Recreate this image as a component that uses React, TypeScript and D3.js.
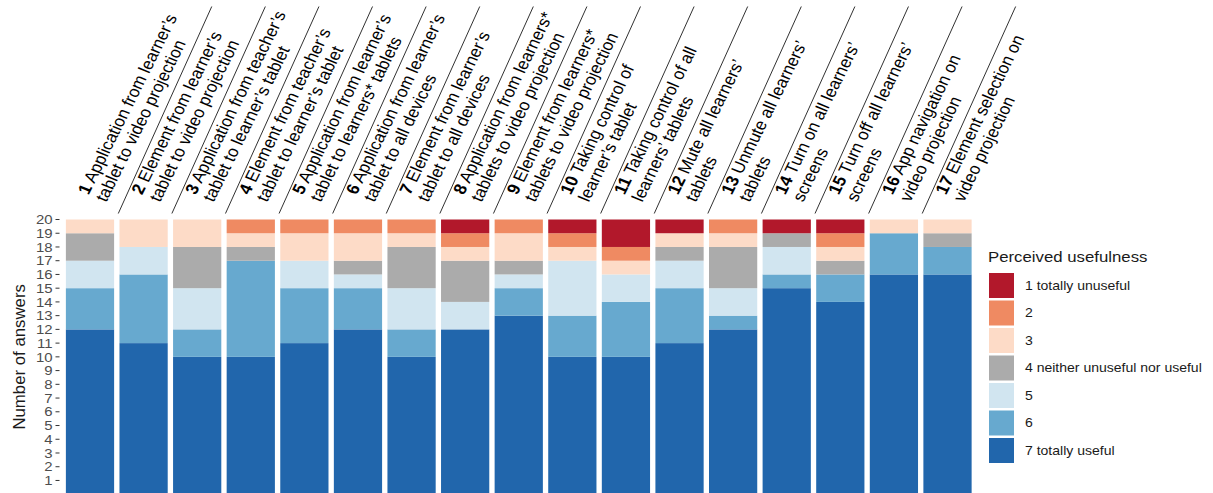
import React from "react";
import * as d3 from "d3";

// survey items (bold number + two text lines)
const itemIds = ["1", "2", "3", "4", "5", "6", "7", "8", "9", "10", "11", "12", "13", "14", "15", "16", "17"];
const itemLine1 = [
	"Application from learner’s",
	"Element from learner’s",
	"Application from teacher’s",
	"Element from teacher’s",
	"Application from learner’s",
	"Application from learner’s",
	"Element from learner’s",
	"Application from learners*",
	"Element from learners*",
	"Taking control of",
	"Taking control of all",
	"Mute all learners’",
	"Unmute all learners’",
	"Turn on all learners’",
	"Turn off all learners’",
	"App navigation on",
	"Element selection on"
];
const itemLine2 = [
	"tablet to video projection",
	"tablet to video projection",
	"tablet to learner’s tablet",
	"tablet to learner’s tablet",
	"tablet to learners* tablets",
	"tablet to all devices",
	"tablet to all devices",
	"tablets to video projection",
	"tablets to video projection",
	"learner’s tablet",
	"learners’ tablets",
	"tablets",
	"tablets",
	"screens",
	"screens",
	"video projection",
	"video projection"
];

// number of answers per rating level, one value per item
const level1 = [0, 0, 0, 0, 0, 0, 0, 1, 0, 1, 2, 1, 0, 1, 1, 0, 0];
const level2 = [0, 0, 0, 1, 1, 1, 1, 1, 1, 1, 1, 0, 1, 0, 1, 0, 0];
const level3 = [1, 2, 2, 1, 2, 2, 1, 1, 2, 1, 1, 1, 1, 0, 1, 1, 1];
const level4 = [2, 0, 3, 1, 0, 1, 3, 3, 1, 0, 0, 1, 3, 1, 1, 0, 1];
const level5 = [2, 2, 3, 0, 2, 1, 3, 2, 1, 4, 2, 2, 2, 2, 0, 0, 0];
const level6 = [3, 5, 2, 7, 4, 3, 2, 0, 2, 3, 4, 4, 1, 1, 2, 3, 2];
const level7 = [12, 11, 10, 10, 11, 12, 10, 12, 13, 10, 10, 11, 12, 15, 14, 16, 16];

const levelLabels = ["1 totally unuseful", "2", "3", "4 neither unuseful nor useful", "5", "6", "7 totally useful"];
const levelColors = ["#B2182B", "#EF8A62", "#FDDBC7", "#ABABAB", "#D1E5F0", "#67A9CF", "#2166AC"];
const yTicks = d3.range(1, 21);

const W = 1213;
const H = 493;
const plot = { left: 63.2, right: 974.3, top: 219.5, bottom: 494.2 };
const font = "'Liberation Sans', Arial, Helvetica, sans-serif";
// the reference text is a bit wider than it is tall
const textStretch = 1.15;
const labelStretch = 1.1;

export default function App() {
	const levels = [level1, level2, level3, level4, level5, level6, level7];

	// rows for d3.stack, key = level number
	const rows = itemIds.map((id, i) => {
		const row: Record<string, any> = { id };
		levels.forEach((lv, k) => { row[String(k + 1)] = lv[i]; });
		return row;
	});

	// stack from 7 (bottom) up to 1 (top)
	const keys = ["7", "6", "5", "4", "3", "2", "1"];
	const series = d3.stack<any>().keys(keys)(rows);

	const x = d3.scaleBand<string>()
		.domain(itemIds)
		.range([plot.left, plot.right])
		.paddingInner(0.1)
		.paddingOuter(0.05);

	const y = d3.scaleLinear().domain([0, 20]).range([plot.bottom, plot.top]);

	const bw = x.bandwidth();
	const step = x.step();
	const sepAngle = (65.7 * Math.PI) / 180;
	const lineBottom = 213.5;
	const lineTop = 6.5;

	return (
		<svg
			width={W}
			height={H}
			style={{ position: "absolute", left: 0, top: 0, background: "#fff" }}
			fontFamily={font}
		>
			{/* bars */}
			{series.map((s) => (
				<g key={s.key} fill={levelColors[Number(s.key) - 1]}>
					{s.map((d, i) => {
						const h = y(d[0]) - y(d[1]);
						if (h <= 0) return null;
						return (
							<rect
								key={i}
								x={x(itemIds[i])}
								y={y(d[1])}
								width={bw}
								height={h}
							/>
						);
					})}
				</g>
			))}

			{/* y axis */}
			<g>
				{yTicks.map((t) => (
					<g key={t} transform={`translate(0,${y(t)})`}>
						<line x1={55.5} x2={59.5} stroke="#333" strokeWidth={1} />
						<text
							transform={`translate(52.5,0) scale(${textStretch},1)`}
							dy="0.36em"
							textAnchor="end"
							fontSize={13}
							fill="#4D4D4D"
						>
							{t}
						</text>
					</g>
				))}
				<text
					transform={`translate(25,${(plot.top + plot.bottom) / 2}) rotate(-90)`}
					textAnchor="middle"
					fontSize={16.8}
					fill="#1A1A1A"
				>
					Number of answers
				</text>
			</g>

			{/* separator lines between the rotated item labels */}
			{itemIds.slice(0, -1).map((id) => {
				const gx = (x(id) as number) + bw + (step - bw) / 2 + 1.5;
				const dx = (lineBottom - lineTop) / Math.tan(sepAngle);
				return (
					<line
						key={`sep-${id}`}
						x1={gx}
						y1={lineBottom}
						x2={gx + dx}
						y2={lineTop}
						stroke="#1A1A1A"
						strokeWidth={0.9}
					/>
				);
			})}

			{/* rotated item labels */}
			{itemIds.map((id, i) => {
				const cx = (x(id) as number) + bw / 2;
				return (
					<g
						key={`lab-${id}`}
						transform={`translate(${cx - 1.5},195.5) scale(${labelStretch},1) rotate(-65.6)`}
					>
						<text fontSize={16.2} fill="#000">
							<tspan x={0} y={0} fontWeight="bold">{id}</tspan>
							<tspan> {itemLine1[i]}</tspan>
							<tspan x={0} y={17.8}>{itemLine2[i]}</tspan>
						</text>
					</g>
				);
			})}

			{/* legend */}
			<g transform="translate(989,0)">
				<text
					transform={`translate(-1,262) scale(${textStretch},1)`}
					fontSize={14.6}
					fill="#1A1A1A"
				>
					Perceived usefulness
				</text>
				{levelLabels.map((lab, k) => {
					const ky = 273 + k * 27.5;
					return (
						<g key={lab}>
							<rect x={0} y={ky} width={25} height={25} fill={levelColors[k]} />
							<text
								transform={`translate(36,${ky + 12.5}) scale(${textStretch},1)`}
								dy="0.36em"
								fontSize={12.2}
								fill="#1A1A1A"
							>
								{lab}
							</text>
						</g>
					);
				})}
			</g>
		</svg>
	);
}
